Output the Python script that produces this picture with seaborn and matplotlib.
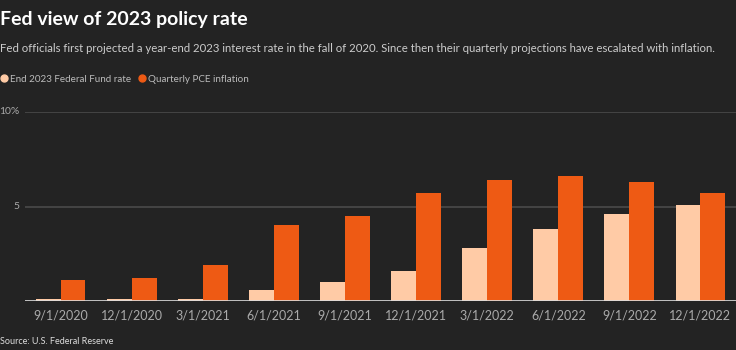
import matplotlib
matplotlib.use("Agg")
import matplotlib.pyplot as plt
from matplotlib.lines import Line2D
import seaborn as sns
import pandas as pd

dates = ["9/1/2020", "12/1/2020", "3/1/2021", "6/1/2021", "9/1/2021",
         "12/1/2021", "3/1/2022", "6/1/2022", "9/1/2022", "12/1/2022"]
fed_rate = [0.1, 0.1, 0.1, 0.6, 1.0, 1.6, 2.8, 3.8, 4.6, 5.1]
pce_inflation = [1.1, 1.2, 1.9, 4.0, 4.5, 5.7, 6.4, 6.6, 6.3, 5.7]
series_names = ["End 2023 Federal Fund rate", "Quarterly PCE inflation"]
colors = ["#FFCBA6", "#EE5A14"]

df = pd.DataFrame({
    "date": dates * 2,
    "value": fed_rate + pce_inflation,
    "series": [series_names[0]] * len(dates) + [series_names[1]] * len(dates),
})

BG = "#232323"
sns.set_theme(style="dark")
plt.rcParams["font.family"] = ["Lato", "DejaVu Sans"]

fig = plt.figure(figsize=(7.36, 3.5), dpi=100, facecolor=BG)
ax = fig.add_axes([25 / 736, 1 - 301 / 350, 711 / 736, (301 - 112) / 350])
ax.set_facecolor(BG)

sns.barplot(data=df, x="date", y="value", hue="series", order=dates,
            hue_order=series_names, palette=colors, width=0.7, gap=0,
            saturation=1, ax=ax, legend=False, linewidth=0)

ax.set_xlim(-0.5, 9.5)
ax.set_ylim(0, 10)
ax.set_yticks([0, 5, 10])
ax.set_yticklabels(["", "5", "10%"])
for y in [5, 10]:
    ax.axhline(y, color="#4A4A4A", lw=1.2, zorder=0)
ax.axhline(0, color="#DDDDDD", lw=1.2, zorder=3)
ax.grid(False)
for s in ax.spines.values():
    s.set_visible(False)
ax.tick_params(axis="both", length=0, colors="#AAAAAA")
ax.tick_params(axis="y", pad=4, labelsize=7.5)
ax.tick_params(axis="x", pad=6, labelsize=9)
ax.set_xlabel("")
ax.set_ylabel("")
for lab in ax.get_yticklabels():
    lab.set_verticalalignment("center")

fig.text(0.0, 1 - 20 / 350, "Fed view of 2023 policy rate", color="white",
         fontsize=14, fontweight="bold", va="center", ha="left")
fig.text(0.0, 1 - 48 / 350,
         "Fed officials first projected a year-end 2023 interest rate in the fall of 2020. "
         "Since then their quarterly projections have escalated with inflation.",
         color="#CCCCCC", fontsize=8.2, va="center", ha="left")
fig.text(0.0, 1 - 342 / 350, "Source: U.S. Federal Reserve", color="#DDDDDD",
         fontsize=6.5, va="center", ha="left")

handles = [Line2D([], [], marker="o", linestyle="", markersize=5,
                  markerfacecolor=c, markeredgecolor=c) for c in colors]
leg = fig.legend(handles, series_names, loc="center left",
                 bbox_to_anchor=(0.002, 1 - 79 / 350), ncol=2, frameon=False,
                 fontsize=7.1, handletextpad=0.3, columnspacing=0.8,
                 borderaxespad=0, borderpad=0, handlelength=0.6)
for t in leg.get_texts():
    t.set_color("#BBBBBB")

fig.savefig("out.png", dpi=100, facecolor=BG)
